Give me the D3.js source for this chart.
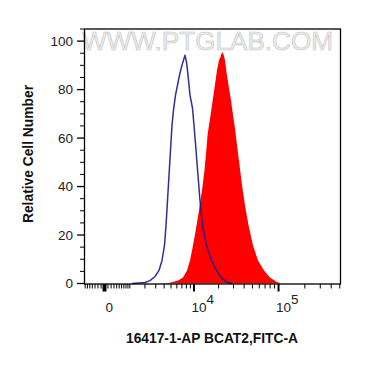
<!DOCTYPE html>
<html>
<head>
<meta charset="utf-8">
<script src="https://cdn.jsdelivr.net/npm/d3@7"></script>
<style>
  html, body { margin: 0; padding: 0; background: #fff; }
  svg { display: block; }
  text { font-family: "Liberation Sans", Arial, sans-serif; }
</style>
</head>
<body>
<svg id="chart" width="365" height="365"></svg>
<script>
// ---- data (FITC-A intensity, relative cell number) ----
const controlIntensity = [1120, 2007, 2435, 2925, 3364, 3726, 4050, 4256, 4468, 4690, 4919, 5159, 5407, 5755, 6121, 6509, 7020, 7680,
  8030, 8394, 8903, 9576, 10000, 10600, 11220, 11880, 12760, 14280, 16430, 18870, 21960, 25170, 28840];
const controlCount = [0, 0.4, 1.2, 2.9, 5.4, 9.5, 15.7, 24, 34.3, 44.6, 55, 65.3, 71.5, 77.7, 81.8, 86, 90.1, 94.2,
  91.3, 86, 77.7, 72.3, 65.3, 55, 44.6, 34.3, 24, 15.7, 9.5, 5.4, 2.1, 0.5, 0];

const sampleIntensity = [3481, 4842, 6217, 7233, 8150, 8903, 9715, 10600, 11540, 12580, 13500, 14280, 14690, 15320, 16200, 17130,
  18110, 19130, 20220, 21080, 21960, 22890, 23830, 24830, 26240, 28080, 29640, 31290, 33040, 35340, 37800, 40960,
  44990, 50750, 58000, 68030, 79760, 93520, 106700];
const sampleCount = [0, 0.3, 1.2, 2.5, 5.4, 9.5, 15.7, 22.7, 30.2, 38.4, 46.7, 55.8, 61.2, 65.3, 70.7, 76.4,
  82.2, 88, 92.1, 93.4, 95.5, 94.6, 92.1, 87.2, 81.8, 75.6, 69.4, 64, 57, 48.8, 40.5, 32.2,
  24, 15.7, 9.5, 5.4, 2.5, 0.8, 0];

const xMajorTicks = [0, 10000, 100000];
const xMajorBase = ["0", "10", "10"];
const xMajorExp = ["", "4", "5"];
const xMinorTicks = [-700, -600, -500, -400, -300, -200, -100, 100, 200, 300, 400, 500, 600, 700, 800, 900, 1000,
  2000, 3000, 4000, 5000, 6000, 7000, 8000, 9000,
  20000, 30000, 40000, 50000, 60000, 70000, 80000, 90000,
  200000, 300000, 400000, 500000];
const yMajorTicks = [0, 20, 40, 60, 80, 100];
const yMinorTicks = [5, 10, 15, 25, 30, 35, 45, 50, 55, 65, 70, 75, 85, 90, 95, 105];

const xTitle = "16417-1-AP BCAT2,FITC-A";
const yTitle = "Relative Cell Number";
const watermark = "WWW.PTGLAB.COM";

// ---- layout ----
const L = 84.5, R = 340.5, T = 29, B = 284;
const svg = d3.select("#chart");

const x = d3.scaleSymlog().constant(1064).domain([-732, 503600]).range([L, 340]);
const y = d3.scaleLinear().domain([0, 105]).range([283.5, T]);

// watermark
svg.append("text")
  .attr("x", 207.5).attr("y", 50)
  .attr("text-anchor", "middle")
  .attr("font-size", 25)
  .attr("textLength", 251).attr("lengthAdjust", "spacingAndGlyphs")
  .attr("fill", "#ededed").attr("stroke", "#c4c4c4").attr("stroke-width", 0.6)
  .text(watermark);

const sample = sampleIntensity.map((v, i) => [v, sampleCount[i]]);
const control = controlIntensity.map((v, i) => [v, controlCount[i]]);

svg.append("path")
  .datum(sample)
  .attr("fill", "#ff0000")
  .attr("d", d3.area().x(d => x(d[0])).y0(y(0)).y1(d => y(d[1])));

svg.append("path")
  .datum(control)
  .attr("fill", "none")
  .attr("stroke", "#1a1a8c")
  .attr("stroke-opacity", 0.9)
  .attr("stroke-width", 1.5)
  .attr("stroke-linejoin", "round")
  .attr("d", d3.line().x(d => x(d[0])).y(d => y(d[1])));

// frame
svg.append("rect")
  .attr("x", L).attr("y", T).attr("width", R - L).attr("height", B - T)
  .attr("fill", "none").attr("stroke", "#000").attr("stroke-width", 1.3);

// x ticks
const gx = svg.append("g");
gx.selectAll("line.minor").data(xMinorTicks).join("line")
  .attr("x1", d => x(d)).attr("x2", d => x(d))
  .attr("y1", B).attr("y2", B + 4.5)
  .attr("stroke", "#000").attr("stroke-width", 1);
gx.selectAll("line.major").data(xMajorTicks).join("line")
  .attr("x1", d => x(d)).attr("x2", d => x(d))
  .attr("y1", B).attr("y2", B + 7.5)
  .attr("stroke", "#000").attr("stroke-width", (d, i) => i === 0 ? 4 : 2);
const xl = gx.selectAll("text").data(xMajorTicks).join("text")
  .attr("x", (d, i) => i === 0 ? x(d) + 1 : x(d) - 2.5).attr("y", 312)
  .attr("text-anchor", "start")
  .attr("font-size", 13.5).attr("fill", "#222");
xl.append("tspan").text((d, i) => xMajorBase[i]);
xl.append("tspan").attr("dy", -8).text((d, i) => xMajorExp[i]);

// y ticks
const gy = svg.append("g");
gy.selectAll("line.minor").data(yMinorTicks).join("line")
  .attr("x1", L - 4.5).attr("x2", L)
  .attr("y1", d => y(d)).attr("y2", d => y(d))
  .attr("stroke", "#000").attr("stroke-width", 1);
gy.selectAll("line.major").data(yMajorTicks).join("line")
  .attr("x1", L - 7.5).attr("x2", L)
  .attr("y1", d => y(d)).attr("y2", d => y(d))
  .attr("stroke", "#000").attr("stroke-width", 1.3);
gy.selectAll("text").data(yMajorTicks).join("text")
  .attr("x", 73).attr("y", d => y(d)).attr("dy", "0.35em")
  .attr("text-anchor", "end")
  .attr("font-size", 13.5).attr("fill", "#222")
  .text(d => d);

// titles
svg.append("text")
  .attr("x", 212).attr("y", 342.5)
  .attr("text-anchor", "middle")
  .attr("font-size", 13.8).attr("font-weight", "bold").attr("fill", "#111")
  .text(xTitle);
svg.append("text")
  .attr("transform", "translate(33,154) rotate(-90)")
  .attr("text-anchor", "middle")
  .attr("font-size", 13.8).attr("font-weight", "bold").attr("fill", "#111")
  .text(yTitle);
</script>
</body>
</html>
